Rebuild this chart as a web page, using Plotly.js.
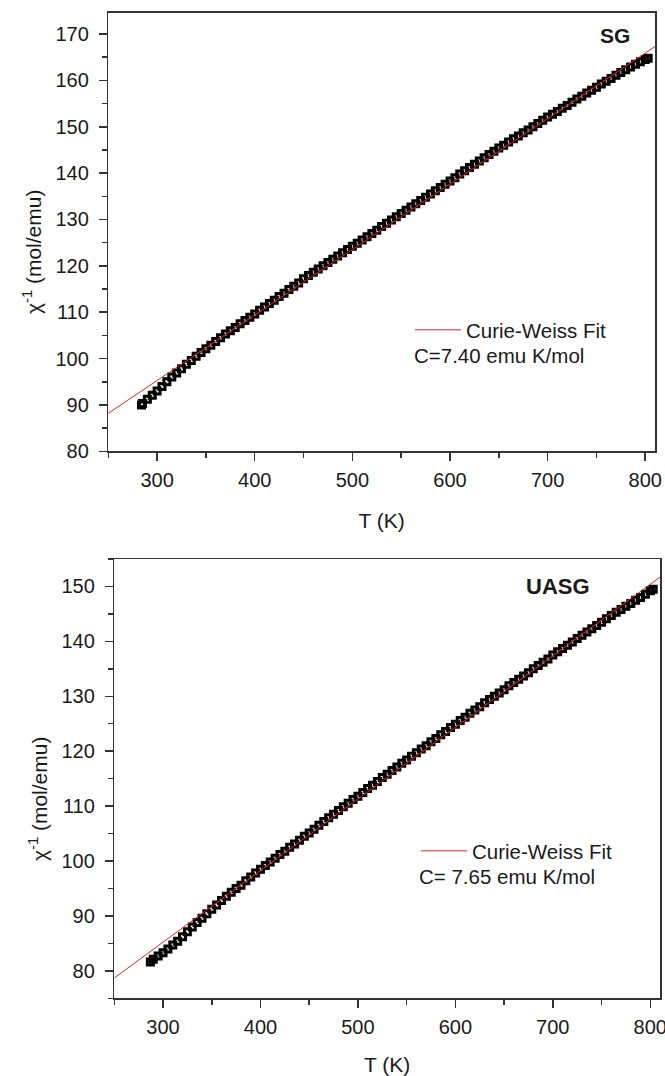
<!DOCTYPE html>
<html>
<head>
<meta charset="utf-8">
<script src="https://cdn.plot.ly/plotly-3.0.1.min.js"></script>
<style>html,body{margin:0;padding:0;background:#fff;}#chart{width:665px;height:1076px;}</style>
</head>
<body>
<div id="chart"></div>
<script>
// ---- SG panel data ----
const T_SG = [284, 285,290,295,300,305,310,315,320,325,330,335,340,345,350,355,360,365,370,375,380,385,390,395,400,405,410,415,420,425,430,435,440,445,450,455,460,465,470,475,480,485,490,495,500,505,510,515,520,525,530,535,540,545,550,555,560,565,570,575,580,585,590,595,600,605,610,615,620,625,630,635,640,645,650,655,660,665,670,675,680,685,690,695,700,705,710,715,720,725,730,735,740,745,750,755,760,765,770,775,780,785,790,795,800, 803];
const chiInv_SG = [90.0,
  90.3,91.2,92.1,93.0,94.0,95.0,96.0,96.9,97.8,98.8,
  99.6,100.5,101.3,102.1,102.9,103.7,104.5,105.3,106.0,106.7,
  107.5,108.2,108.9,109.6,110.4,111.1,111.9,112.6,113.4,114.1,
  114.9,115.6,116.3,117.2,117.9,118.6,119.3,120.0,120.7,121.4,
  122.1,122.8,123.5,124.2,124.9,125.6,126.3,127.0,127.7,128.5,
  129.2,129.9,130.6,131.3,132.0,132.7,133.4,134.1,134.8,135.5,
  136.2,136.9,137.6,138.3,139.0,139.8,140.5,141.2,141.9,142.6,
  143.3,144.0,144.7,145.4,146.0,146.7,147.4,148.0,148.7,149.3,
  150.0,150.7,151.4,152.1,152.7,153.3,154.0,154.6,155.3,156.0,
  156.6,157.3,157.9,158.5,159.2,159.8,160.4,161.1,161.7,162.3,
  162.9,163.5,164.0,164.5,
  164.8];
const fitT_SG = [250, 810];
const fit_SG = [88.2, 167.3];

// ---- UASG panel data ----
const T_UASG = [287, 290,295,300,305,310,315,320,325,330,335,340,345,350,355,360,365,370,375,380,385,390,395,400,405,410,415,420,425,430,435,440,445,450,455,460,465,470,475,480,485,490,495,500,505,510,515,520,525,530,535,540,545,550,555,560,565,570,575,580,585,590,595,600,605,610,615,620,625,630,635,640,645,650,655,660,665,670,675,680,685,690,695,700,705,710,715,720,725,730,735,740,745,750,755,760,765,770,775,780,785,790,795,800, 803];
const chiInv_UASG = [81.6,
  82.1,82.7,83.3,84.0,84.7,85.4,86.2,87.1,88.0,88.8,
  89.6,90.4,91.2,92.0,92.8,93.6,94.3,95.0,95.6,96.4,
  97.1,97.8,98.5,99.2,99.8,100.5,101.2,101.8,102.5,103.1,
  103.8,104.5,105.1,105.8,106.5,107.2,107.9,108.5,109.2,109.9,
  110.5,111.2,111.8,112.5,113.2,113.8,114.5,115.2,115.8,116.5,
  117.1,117.8,118.4,119.1,119.7,120.4,121.0,121.7,122.3,123.0,
  123.6,124.3,124.9,125.6,126.2,126.9,127.5,128.1,128.8,129.4,
  130.0,130.6,131.2,131.9,132.5,133.1,133.7,134.3,135.0,135.6,
  136.2,136.8,137.5,138.1,138.7,139.3,139.9,140.5,141.1,141.7,
  142.3,142.9,143.5,144.1,144.7,145.3,145.8,146.4,146.9,147.5,
  148.0,148.6,149.2,
  149.5];
const fitT_UASG = [250, 810];
const fit_UASG = [78.7, 151.7];

// ---- labels ----
const panelLabels = ['SG', 'UASG'];
const fitName = 'Curie-Weiss Fit';
const curieLabels = ['C=7.40 emu K/mol', 'C= 7.65 emu K/mol'];
const xTitle = 'T (K)';
const yTitle = 'χ<sup>-1</sup> (mol/emu)';

const W = 665, H = 1076;
const FONT = 'Liberation Sans, Arial, sans-serif';
const AX = '#333333';
const TXT = '#1a1a1a';
const px = v => v / W;
const py = v => 1 - v / H;

const markerStyle = {symbol: 'square-open', size: 6, color: '#000', line: {width: 3, color: '#000'}};
const fitStyle = {color: '#e3241f', width: 1};

const traces = [
  {x: T_SG, y: chiInv_SG, type: 'scatter', mode: 'markers', marker: markerStyle, xaxis: 'x', yaxis: 'y', showlegend: false},
  {x: fitT_SG, y: fit_SG, type: 'scatter', mode: 'lines', line: fitStyle, name: fitName, xaxis: 'x', yaxis: 'y', legend: 'legend', showlegend: true},
  {x: T_UASG, y: chiInv_UASG, type: 'scatter', mode: 'markers', marker: markerStyle, xaxis: 'x2', yaxis: 'y2', showlegend: false},
  {x: fitT_UASG, y: fit_UASG, type: 'scatter', mode: 'lines', line: fitStyle, name: fitName, xaxis: 'x2', yaxis: 'y2', legend: 'legend2', showlegend: true}
];

function xAxis(domain, anchor, standoff) {
  return {
    domain: domain, anchor: anchor, range: [250, 810], dtick: 100, tick0: 0,
    ticks: 'outside', ticklen: 8, tickwidth: 1.5, tickcolor: AX,
    minor: {dtick: 50, ticks: 'outside', ticklen: 5, tickwidth: 1.5, tickcolor: AX, showgrid: false},
    showline: true, linecolor: AX, linewidth: 1.5, mirror: true,
    showgrid: false, zeroline: false,
    tickfont: {family: FONT, size: 20, color: TXT}, ticklabelstandoff: 2,
    ticklabeloverflow: 'allow',
    title: {text: xTitle, font: {family: FONT, size: 21, color: TXT}, standoff: standoff}
  };
}
function yAxis(domain, anchor, range) {
  return {
    domain: domain, anchor: anchor, range: range, dtick: 10, tick0: 0,
    ticks: 'outside', ticklen: 8, tickwidth: 1.5, tickcolor: AX,
    minor: {dtick: 5, ticks: 'outside', ticklen: 5, tickwidth: 1.5, tickcolor: AX, showgrid: false},
    showline: true, linecolor: AX, linewidth: 1.5, mirror: true,
    showgrid: false, zeroline: false,
    tickfont: {family: FONT, size: 20, color: TXT}, ticklabelstandoff: 6
  };
}

const legendBase = {
  xanchor: 'left', yanchor: 'middle', bgcolor: 'rgba(0,0,0,0)', borderwidth: 0,
  font: {family: FONT, size: 20.5, color: TXT}, itemwidth: 46, itemclick: false
};

const layout = {
  width: W, height: H,
  margin: {l: 0, r: 0, t: 0, b: 0},
  paper_bgcolor: '#fff', plot_bgcolor: '#fff',
  xaxis: xAxis([px(108.3), px(655)], 'y', 23),
  yaxis: yAxis([py(451.3), py(12.7)], 'x', [80, 174.6]),
  xaxis2: xAxis([px(114.3), px(660)], 'y2', 29),
  yaxis2: yAxis([py(998.3), py(559)], 'x2', [75, 155]),
  legend: Object.assign({}, legendBase, {x: px(410), y: py(330)}),
  legend2: Object.assign({}, legendBase, {x: px(416), y: py(851)}),
  annotations: [
    {xref: 'paper', yref: 'paper', x: px(614.7), y: py(35), text: '<b>' + panelLabels[0] + '</b>', showarrow: false, xanchor: 'center', yanchor: 'middle', font: {family: FONT, size: 21, color: TXT}},
    {xref: 'paper', yref: 'paper', x: px(558.4), y: py(586), text: '<b>' + panelLabels[1] + '</b>', showarrow: false, xanchor: 'center', yanchor: 'middle', font: {family: FONT, size: 22, color: TXT}},
    {xref: 'paper', yref: 'paper', x: px(412), y: py(355), text: curieLabels[0], showarrow: false, xanchor: 'left', yanchor: 'middle', font: {family: FONT, size: 20.5, color: TXT}},
    {xref: 'paper', yref: 'paper', x: px(417), y: py(876.6), text: curieLabels[1], showarrow: false, xanchor: 'left', yanchor: 'middle', font: {family: FONT, size: 20.5, color: TXT}},
    {xref: 'paper', yref: 'paper', x: px(32), y: py(252), text: yTitle, textangle: -90, showarrow: false, xanchor: 'center', yanchor: 'middle', font: {family: FONT, size: 21, color: TXT}},
    {xref: 'paper', yref: 'paper', x: px(38), y: py(799), text: yTitle, textangle: -90, showarrow: false, xanchor: 'center', yanchor: 'middle', font: {family: FONT, size: 21, color: TXT}}
  ]
};

Plotly.newPlot('chart', traces, layout, {displayModeBar: false, staticPlot: true});
</script>
</body>
</html>
